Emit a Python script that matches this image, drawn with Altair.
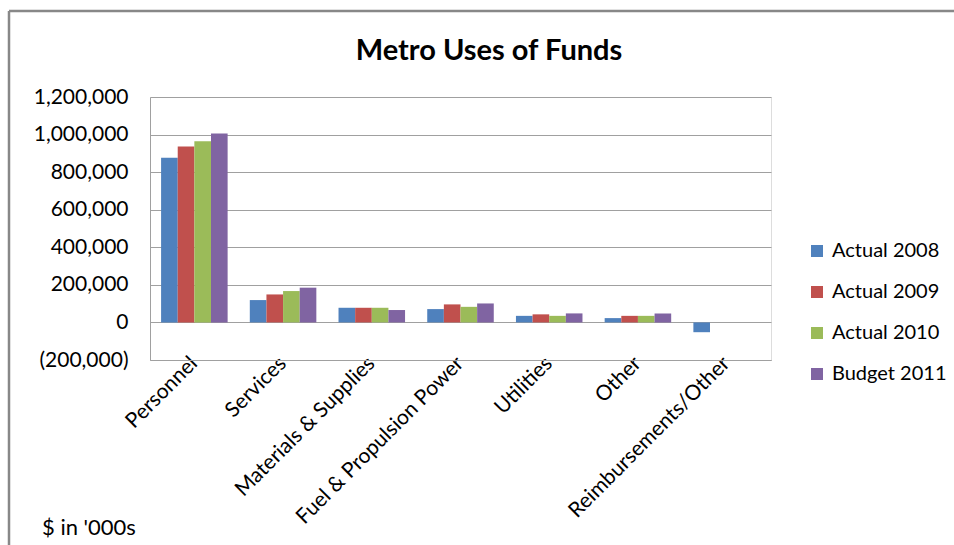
import altair as alt
import pandas as pd

categories = ["Personnel", "Services", "Materials & Supplies", "Fuel & Propulsion Power",
              "Utilities", "Other", "Reimbursements/Other"]
series_names = ["Actual 2008", "Actual 2009", "Actual 2010", "Budget 2011"]
actual_2008 = [876000, 119000, 78000, 71000, 35000, 23000, -52000]
actual_2009 = [937000, 149000, 78000, 96000, 43000, 35000, None]
actual_2010 = [965000, 167000, 78000, 83000, 35000, 35000, None]
budget_2011 = [1006000, 185000, 66000, 101000, 48000, 48000, None]
colors = ["#4F81BD", "#C0504D", "#9BBB59", "#8064A2"]
y_ticks = [-200000, 0, 200000, 400000, 600000, 800000, 1000000, 1200000]
title_text = "Metro Uses of Funds"
note_text = "$ in '000s"

rows = []
for name, vals in zip(series_names, [actual_2008, actual_2009, actual_2010, budget_2011]):
    for c, v in zip(categories, vals):
        if v is not None:
            rows.append({"category": c, "series": name, "value": v})
df = pd.DataFrame(rows)

FONT = "Lato"

bars = alt.Chart(df).mark_bar().encode(
    x=alt.X("category:N", sort=categories, title=None,
            scale=alt.Scale(paddingInner=0.25, paddingOuter=0.125),
            axis=alt.Axis(labelAngle=-45, labelAlign="right", labelBaseline="middle",
                          labelPadding=0, ticks=False, domainColor="#a0a0a0", labelLimit=400,
                          labelFontSize=21, labelColor="#000000", labelFont=FONT)),
    xOffset=alt.XOffset("series:N", sort=series_names,
                        scale=alt.Scale(paddingInner=0, paddingOuter=0)),
    y=alt.Y("value:Q", title=None,
            scale=alt.Scale(domain=[-200000, 1200000], nice=False),
            axis=alt.Axis(values=y_ticks, ticks=False, labelPadding=22,
                          labelExpr="datum.value < 0 ? '(' + format(-datum.value, ',') + ')' : format(datum.value, ',')",
                          gridColor="#a0a0a0", domainColor="#a0a0a0",
                          labelFontSize=21, labelColor="#000000", labelFont=FONT)),
    color=alt.Color("series:N", sort=series_names,
                    scale=alt.Scale(domain=series_names, range=colors),
                    legend=alt.Legend(title=None, orient="none", legendX=657, legendY=144,
                                      symbolType="square", symbolSize=144, symbolStrokeWidth=0,
                                      labelFontSize=20, labelFont=FONT, labelColor="#000000",
                                      rowPadding=21, labelOffset=5)),
)

title = alt.Chart(pd.DataFrame({"t": [title_text]})).mark_text(
    align="center", baseline="alphabetic", fontSize=29, font=FONT, fontWeight="bold", color="#000000"
).encode(text="t:N", x=alt.value(339), y=alt.value(-37))

note = alt.Chart(pd.DataFrame({"t": [note_text]})).mark_text(
    align="left", baseline="alphabetic", fontSize=22, font=FONT, color="#000000"
).encode(text="t:N", x=alt.value(-108), y=alt.value(438))

top_border = alt.Chart(pd.DataFrame({"k": [0]})).mark_rule(color="#888888", strokeWidth=2.5).encode(
    x=alt.value(-141), x2=alt.value(810), y=alt.value(-86))
left_border = alt.Chart(pd.DataFrame({"k": [0]})).mark_rule(color="#888888", strokeWidth=2.5).encode(
    x=alt.value(-141), y=alt.value(-86), y2=alt.value(450))

chart = alt.layer(bars, title, note, top_border, left_border).properties(
    width=621, height=263,
    autosize=alt.AutoSizeParams(type="none"),
    padding={"left": 150, "top": 97, "right": 183, "bottom": 185},
).configure_view(stroke=None).configure(background="white")

chart.save("out.html", embed_options={"renderer": "svg", "actions": False})
